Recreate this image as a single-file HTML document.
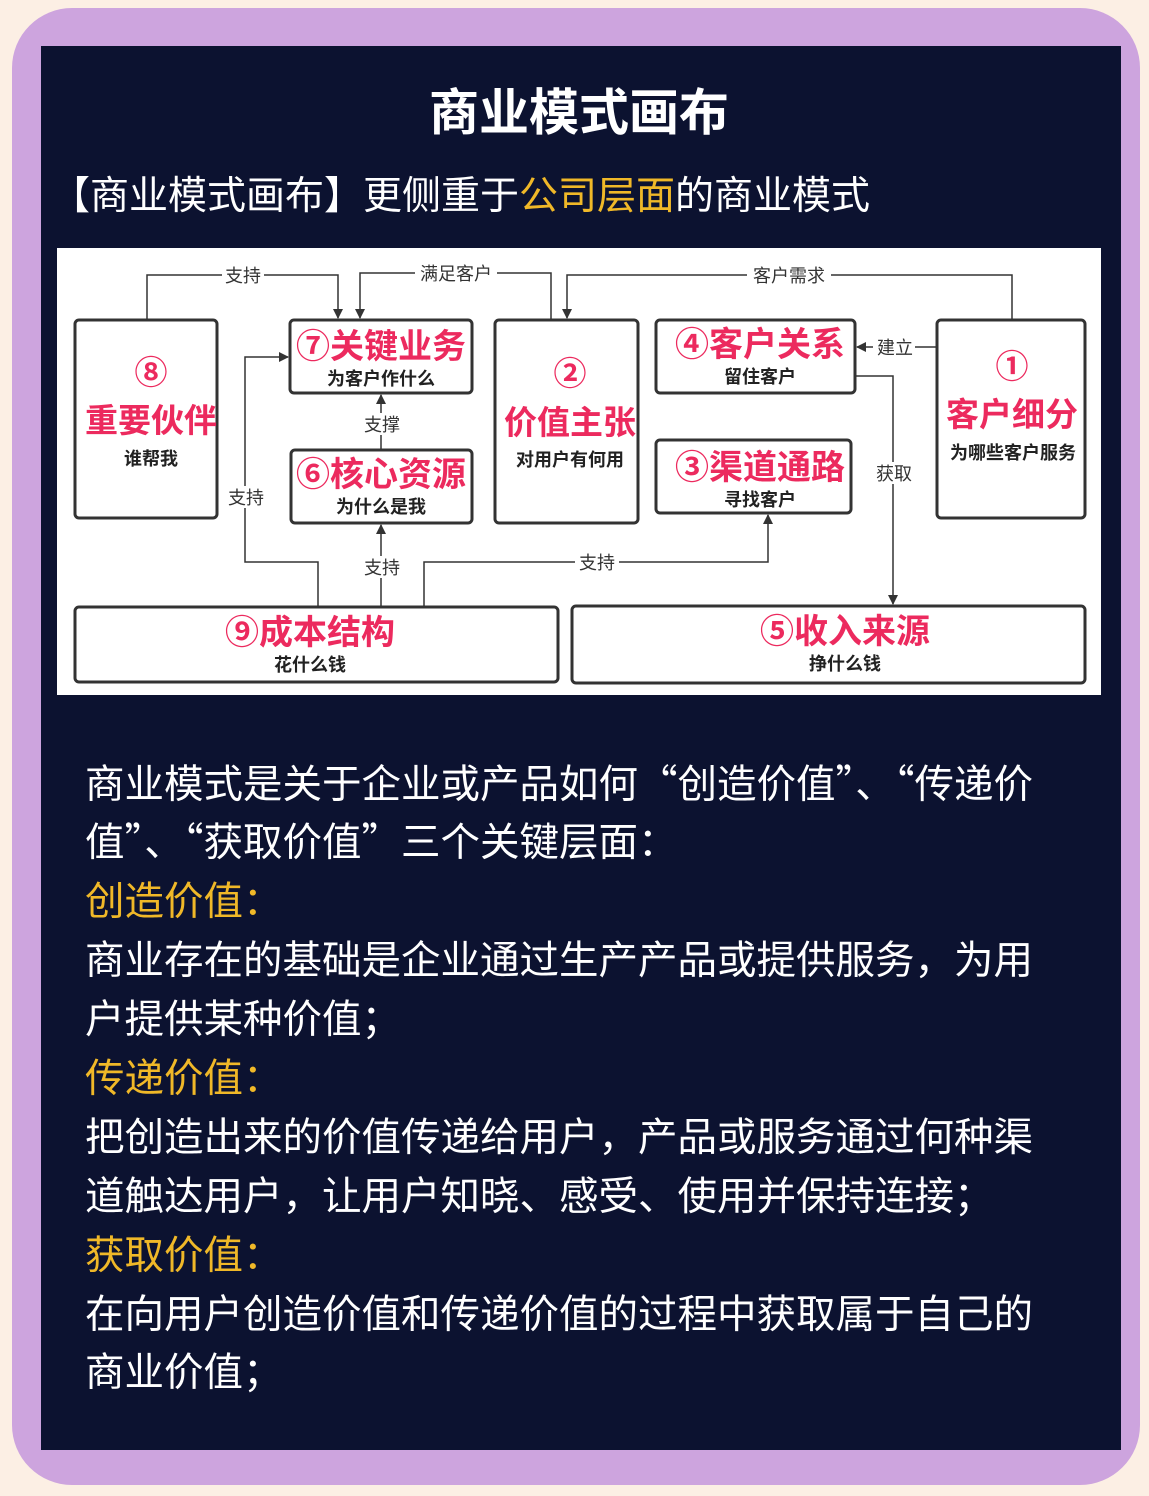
<!DOCTYPE html>
<html><head><meta charset="utf-8">
<style>
html,body{margin:0;padding:0;}
body{width:1149px;height:1496px;background:#fcefe4;position:relative;overflow:hidden;font-family:"Noto Sans CJK SC",sans-serif;}
.purple{position:absolute;left:12px;top:8px;width:1128px;height:1477px;background:#cda4de;border-radius:60px;}
.navy{position:absolute;left:41px;top:46px;width:1080px;height:1404px;background:#0c1230;}
.t{position:absolute;white-space:nowrap;color:#fff;}
.y{color:#f0b828;}
.line{position:absolute;left:85px;font-size:39.5px;line-height:40px;color:#fff;white-space:nowrap;}
.line.y{color:#f0b828;}
svg text{font-family:"Noto Sans CJK SC",sans-serif;}
</style></head><body>
<div class="purple"></div>
<div class="navy"></div>
<div class="t" style="left:0;width:1158px;text-align:center;top:82px;font-size:50px;line-height:54px;font-weight:bold;">商业模式画布</div>
<div class="t" style="left:51px;top:172px;font-size:39px;line-height:42px;">【商业模式画布】更侧重于<span class="y">公司层面</span>的商业模式</div>

<svg style="position:absolute;left:0;top:0" width="1149" height="1496">
<defs><marker id="a" markerWidth="10" markerHeight="10" refX="9" refY="5" orient="auto" markerUnits="userSpaceOnUse"><path d="M0,0 L10,5 L0,10 z" fill="#333"/></marker></defs>
<rect x="57" y="248" width="1044" height="447" fill="#fff"/>
<g fill="none" stroke="#333" stroke-width="1.5">
<polyline points="147,320 147,275 338,275 338,318" marker-end="url(#a)"/>
<polyline points="551,320 551,273 360,273 360,318" marker-end="url(#a)"/>
<polyline points="1012,320 1012,275 567,275 567,318" marker-end="url(#a)"/>
<polyline points="937,347 857,347" marker-end="url(#a)"/>
<polyline points="855,376 893,376 893,604" marker-end="url(#a)"/>
<polyline points="381,450 381,395" marker-end="url(#a)"/>
<polyline points="381,607 381,525" marker-end="url(#a)"/>
<polyline points="318,607 318,562 245,562 245,357 288,357" marker-end="url(#a)"/>
<polyline points="424,607 424,562 768,562 768,515" marker-end="url(#a)"/>
</g>
<g fill="#fff">
<rect x="222" y="264" width="42" height="22"/>
<rect x="415" y="262" width="82" height="22"/>
<rect x="747" y="264" width="84" height="22"/>
<rect x="873" y="336" width="42" height="22"/>
<rect x="872" y="462" width="44" height="22"/>
<rect x="360" y="413" width="44" height="22"/>
<rect x="360" y="556" width="44" height="22"/>
<rect x="224" y="486" width="44" height="22"/>
<rect x="575" y="551" width="44" height="22"/>
</g>
<g font-size="18" fill="#333" text-anchor="middle">
<text x="243" y="282">支持</text>
<text x="456" y="280">满足客户</text>
<text x="789" y="282">客户需求</text>
<text x="895" y="354">建立</text>
<text x="894" y="480">获取</text>
<text x="382" y="431">支撑</text>
<text x="382" y="574">支持</text>
<text x="246" y="504">支持</text>
<text x="597" y="569">支持</text>
</g>
<g fill="#fff" stroke="#333" stroke-width="3">
<rect x="75" y="320" width="142" height="198" rx="4"/>
<rect x="290" y="320" width="182" height="73" rx="4"/>
<rect x="291" y="450" width="181" height="73" rx="4"/>
<rect x="495" y="320" width="143" height="203" rx="4"/>
<rect x="656" y="320" width="199" height="73" rx="4"/>
<rect x="656" y="440" width="195" height="73" rx="4"/>
<rect x="937" y="320" width="148" height="198" rx="4"/>
<rect x="75" y="607" width="483" height="75" rx="4"/>
<rect x="572" y="606" width="513" height="77" rx="4"/>
</g>
<g fill="#ec2a5e" font-weight="bold" text-anchor="middle">
<text x="151" y="384" font-size="33">⑧</text>
<text x="151" y="432" font-size="33">重要伙伴</text>
<text x="381" y="358" font-size="34">⑦关键业务</text>
<text x="381" y="486" font-size="34">⑥核心资源</text>
<text x="570" y="385" font-size="33">②</text>
<text x="570" y="434" font-size="33">价值主张</text>
<text x="760" y="356" font-size="34">④客户关系</text>
<text x="760" y="479" font-size="34">③渠道通路</text>
<text x="1012" y="378" font-size="33">①</text>
<text x="1012" y="426" font-size="33">客户细分</text>
<text x="310" y="644" font-size="34">⑨成本结构</text>
<text x="845" y="643" font-size="34">⑤收入来源</text>
</g>
<g fill="#222" font-weight="bold" font-size="18" text-anchor="middle">
<text x="151" y="465">谁帮我</text>
<text x="381" y="385">为客户作什么</text>
<text x="381" y="513">为什么是我</text>
<text x="570" y="466">对用户有何用</text>
<text x="760" y="383">留住客户</text>
<text x="760" y="506">寻找客户</text>
<text x="1013" y="459">为哪些客户服务</text>
<text x="310" y="671">花什么钱</text>
<text x="845" y="670">挣什么钱</text>
</g>
</svg>

<div class="line" style="top:762px">商业模式是关于企业或产品如何“创造价值”、“传递价</div>
<div class="line" style="top:820px">值”、“获取价值”三个关键层面：</div>
<div class="line y" style="top:879px">创造价值：</div>
<div class="line" style="top:938px">商业存在的基础是企业通过生产产品或提供服务，为用</div>
<div class="line" style="top:997px">户提供某种价值；</div>
<div class="line y" style="top:1056px">传递价值：</div>
<div class="line" style="top:1115px">把创造出来的价值传递给用户，产品或服务通过何种渠</div>
<div class="line" style="top:1174px">道触达用户，让用户知晓、感受、使用并保持连接；</div>
<div class="line y" style="top:1233px">获取价值：</div>
<div class="line" style="top:1292px">在向用户创造价值和传递价值的过程中获取属于自己的</div>
<div class="line" style="top:1350px">商业价值；</div>
</body></html>
